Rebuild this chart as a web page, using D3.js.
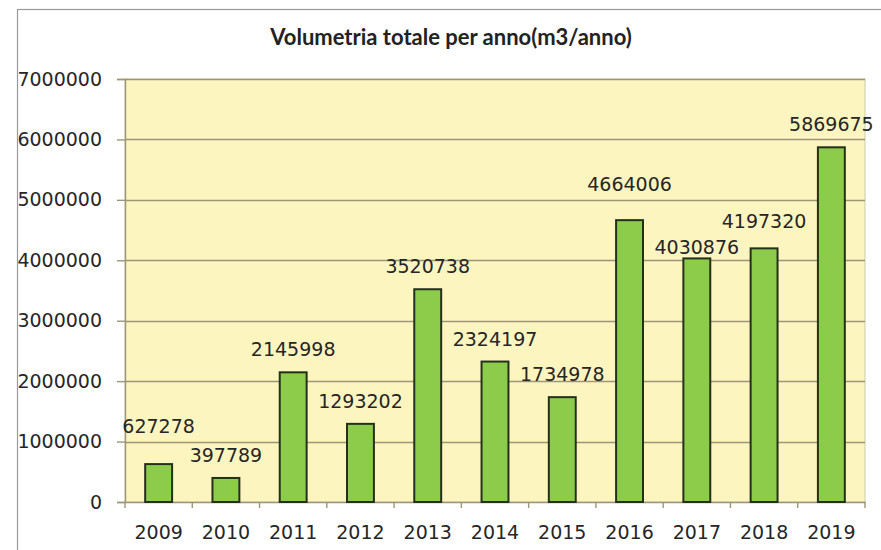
<!DOCTYPE html>
<html>
<head>
<meta charset="utf-8">
<script src="https://cdn.jsdelivr.net/npm/d3@7"></script>
<style>
  html, body { margin: 0; padding: 0; background: #ffffff; }
  svg { display: block; }
</style>
</head>
<body>
<svg id="chart" width="881" height="550"></svg>
<script>
// ---- data ----
const years = ["2009","2010","2011","2012","2013","2014","2015","2016","2017","2018","2019"];
const volumes = [627278, 397789, 2145998, 1293202, 3520738, 2324197, 1734978, 4664006, 4030876, 4197320, 5869675];
const yTicks = [0, 1000000, 2000000, 3000000, 4000000, 5000000, 6000000, 7000000];
const title = "Volumetria totale per anno(m3/anno)";
// manual label nudges (px, vertical) as placed in the original chart
const labelNudge = [-15, 0, 0, 0, 0, 0, 0, -13, 12, -4, 0];

// ---- layout ----
const W = 881, H = 550;
const margin = { left: 125, right: 16, top: 79, bottom: 48 };
const svg = d3.select("#chart");
const FONT = "'DejaVu Sans', Verdana, sans-serif";

// outer chart border (extends past the bottom/right of the picture)
svg.append("rect")
  .attr("x", 17.5).attr("y", 9.5)
  .attr("width", 880).attr("height", 560)
  .attr("fill", "#ffffff")
  .attr("stroke", "#9a9a9a").attr("stroke-width", 1.2);

const x = d3.scaleBand().domain(years).range([margin.left, W - margin.right]).paddingInner(0.6).paddingOuter(0.3);
const xb = d3.scaleBand().domain(years).range([margin.left, W - margin.right]);
const y = d3.scaleLinear().domain([0, 7000000]).range([H - margin.bottom, margin.top]);

// plot background
svg.append("rect")
  .attr("x", margin.left).attr("y", margin.top)
  .attr("width", W - margin.right - margin.left)
  .attr("height", y(0) - margin.top)
  .attr("fill", "#fdf5bf")
  .attr("stroke", "#cfcaa6").attr("stroke-width", 1);

// gridlines
svg.append("g").selectAll("line").data(yTicks.filter(d => d > 0)).join("line")
  .attr("x1", margin.left).attr("x2", W - margin.right)
  .attr("y1", d => Math.round(y(d)) + 0.5).attr("y2", d => Math.round(y(d)) + 0.5)
  .attr("stroke", "#9c9677").attr("stroke-width", 1.4);

// y axis
const yAxis = svg.append("g")
  .attr("transform", `translate(${margin.left},0)`)
  .call(d3.axisLeft(y).tickValues(yTicks).tickFormat(d3.format("d")).tickSize(8).tickPadding(15));
yAxis.select(".domain").attr("stroke", "#9c9677").attr("stroke-width", 1.4);
yAxis.selectAll(".tick line").attr("stroke", "#9c9677").attr("stroke-width", 1.4);
yAxis.selectAll("text")
  .style("font-family", FONT)
  .attr("font-size", 19).attr("fill", "#262626");

// x axis
const xAxis = svg.append("g")
  .attr("transform", `translate(0,${y(0)})`)
  .call(d3.axisBottom(xb).tickSize(0).tickPadding(24));
xAxis.select(".domain").attr("stroke", "#9c9677").attr("stroke-width", 1.6);
xAxis.selectAll("text")
  .style("font-family", FONT)
  .attr("font-size", 19).attr("fill", "#262626");
// x tick marks at category boundaries
const bounds = years.map(d => xb(d)).concat([xb(years[years.length - 1]) + xb.bandwidth()]);
svg.append("g").selectAll("line").data(bounds).join("line")
  .attr("x1", d => d).attr("x2", d => d)
  .attr("y1", y(0)).attr("y2", y(0) + 6)
  .attr("stroke", "#9c9677").attr("stroke-width", 1.4);

// bars
svg.append("g").selectAll("rect").data(volumes).join("rect")
  .attr("x", (d, i) => x(years[i]))
  .attr("y", d => y(d))
  .attr("width", x.bandwidth())
  .attr("height", d => y(0) - y(d))
  .attr("fill", "#8dcc4a")
  .attr("stroke", "#24301a").attr("stroke-width", 2);

// value labels
svg.append("g").selectAll("text").data(volumes).join("text")
  .attr("x", (d, i) => x(years[i]) + x.bandwidth() / 2)
  .attr("y", (d, i) => y(d) - 16 + labelNudge[i])
  .attr("text-anchor", "middle")
  .style("font-family", FONT)
  .attr("font-size", 19).attr("fill", "#262626")
  .text(d => d);

// title
svg.append("text")
  .attr("x", 451).attr("y", 45)
  .attr("text-anchor", "middle")
  .style("font-family", "Lato, Carlito, Calibri, sans-serif")
  .attr("font-weight", "bold")
  .attr("font-size", 22).attr("fill", "#222")
  .text(title);
</script>
</body>
</html>
